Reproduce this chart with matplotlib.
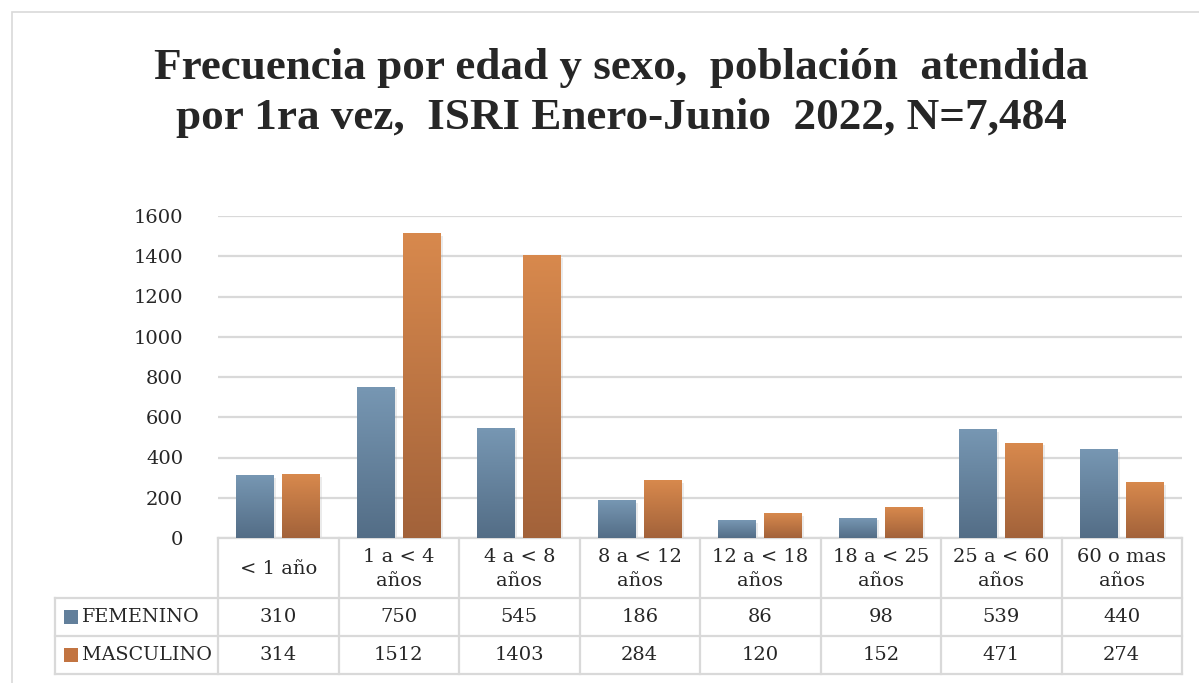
import numpy as np
import matplotlib.pyplot as plt
import matplotlib.patheffects as pe
from matplotlib.transforms import blended_transform_factory
from matplotlib.colors import LinearSegmentedColormap
from matplotlib.patches import Rectangle

# ---------------- data ----------------
categories = ['< 1 año', '1 a < 4\naños', '4 a < 8\naños', '8 a < 12\naños',
              '12 a < 18\naños', '18 a < 25\naños', '25 a < 60\naños', '60 o mas\naños']
femenino = [310, 750, 545, 186, 86, 98, 539, 440]
masculino = [314, 1512, 1403, 284, 120, 152, 471, 274]
series_names = ['FEMENINO', 'MASCULINO']
yticks = [0, 200, 400, 600, 800, 1000, 1200, 1400, 1600]
title = 'Frecuencia por edad y sexo,  población  atendida\npor 1ra vez,  ISRI Enero-Junio  2022, N=7,484'

# ---------------- style ----------------
W, H = 1199, 683
body_font = 'DejaVu Serif'
grid_col = '#d9d9d9'
fem_grad = LinearSegmentedColormap.from_list('fem', ['#536d86', '#7797b3'])
mas_grad = LinearSegmentedColormap.from_list('mas', ['#a2623a', '#d8894d'])
swatch = {'FEMENINO': '#627f9b', 'MASCULINO': '#c27441'}

fig = plt.figure(figsize=(W / 100, H / 100), dpi=100)

# outer chart border
fig.patches.append(Rectangle((12 / W, -0.1), 1.2, 1 - 12 / H + 0.1, transform=fig.transFigure,
                             fill=False, edgecolor='#d9d9d9', linewidth=1.2))

# plot area in pixel terms
x0, x1, y_zero, y_top = 218, 1182, 538, 216
ax = fig.add_axes([x0 / W, 1 - y_zero / H, (x1 - x0) / W, (y_zero - y_top) / H])

x = np.arange(len(categories))
bw = 0.315
off = 0.19

bars_f = ax.bar(x - off, femenino, bw, color='#6a88a3', zorder=2)
bars_m = ax.bar(x + off, masculino, bw, color='#c87a45', zorder=2)

# gradient fill + soft shadow
grad = np.linspace(0, 1, 256).reshape(-1, 1)
for bars, cmap in [(bars_f, fem_grad), (bars_m, mas_grad)]:
    for b in bars:
        b.set_path_effects([pe.SimplePatchShadow(offset=(1.5, -1.5), shadow_rgbFace='#b0b0b0', alpha=0.25),
                            pe.Normal()])
        bx, bwid, bh = b.get_x(), b.get_width(), b.get_height()
        ax.imshow(grad, extent=(bx, bx + bwid, 0, bh), origin='lower', cmap=cmap,
                  aspect='auto', zorder=3, interpolation='bicubic')

ax.set_xlim(-0.5, len(categories) - 0.5)
ax.set_ylim(0, 1600)
ax.set_yticks(yticks)
ax.set_yticklabels([str(t) for t in yticks], fontsize=14, family=body_font, color='#262626')
ax.tick_params(axis='y', length=0, pad=25)
ax.tick_params(axis='x', length=0, labelbottom=False)
ax.grid(axis='y', color=grid_col, linewidth=1.6, zorder=0)
ax.set_axisbelow(True)
for s in ['top', 'right', 'left']:
    ax.spines[s].set_visible(False)
ax.spines['bottom'].set_color(grid_col)
ax.spines['bottom'].set_linewidth(1.6)

# ---------------- data table ----------------
ph = y_zero - y_top
def fy(ypix):
    return (y_zero - ypix) / ph

def fx(xpix):
    return (xpix - x0) / (x1 - x0) * len(categories) - 0.5

tr = blended_transform_factory(ax.transData, ax.transAxes)
row_edges = [538, 598, 636, 674]
line_kw = dict(color=grid_col, linewidth=1.6, transform=tr, clip_on=False, zorder=1)
left_x = fx(55)

for ye in row_edges[1:]:
    ax.plot([left_x, len(categories) - 0.5], [fy(ye), fy(ye)], **line_kw)
for i in range(len(categories) + 1):
    ax.plot([i - 0.5, i - 0.5], [fy(538), fy(674)], **line_kw)
ax.plot([left_x, left_x], [fy(598), fy(674)], **line_kw)

txt_kw = dict(transform=tr, ha='center', va='center', fontsize=14, family=body_font,
              color='#262626', linespacing=1.5)
for i, c in enumerate(categories):
    ax.text(i, fy(569), c, **txt_kw)

for r, (name, vals) in enumerate(zip(series_names, [femenino, masculino])):
    yc = fy((row_edges[r + 1] + row_edges[r + 2]) / 2)
    for i, v in enumerate(vals):
        ax.text(i, yc, str(v), **txt_kw)
    ax.add_patch(Rectangle((fx(64), yc - 7 / ph), fx(78) - fx(64), 14 / ph, transform=tr,
                           facecolor=swatch[name], edgecolor='none', clip_on=False))
    ax.text(fx(82), yc, name, transform=tr, ha='left', va='center', fontsize=13.8,
            family=body_font, color='#262626')

# ---------------- title ----------------
fig.text(621 / W, 1 - 93 / H, title, ha='center', va='center', fontsize=32.5,
         family='Liberation Serif', fontweight='bold', color='#262626', linespacing=1.3)

fig.savefig('out.png', dpi=100)
